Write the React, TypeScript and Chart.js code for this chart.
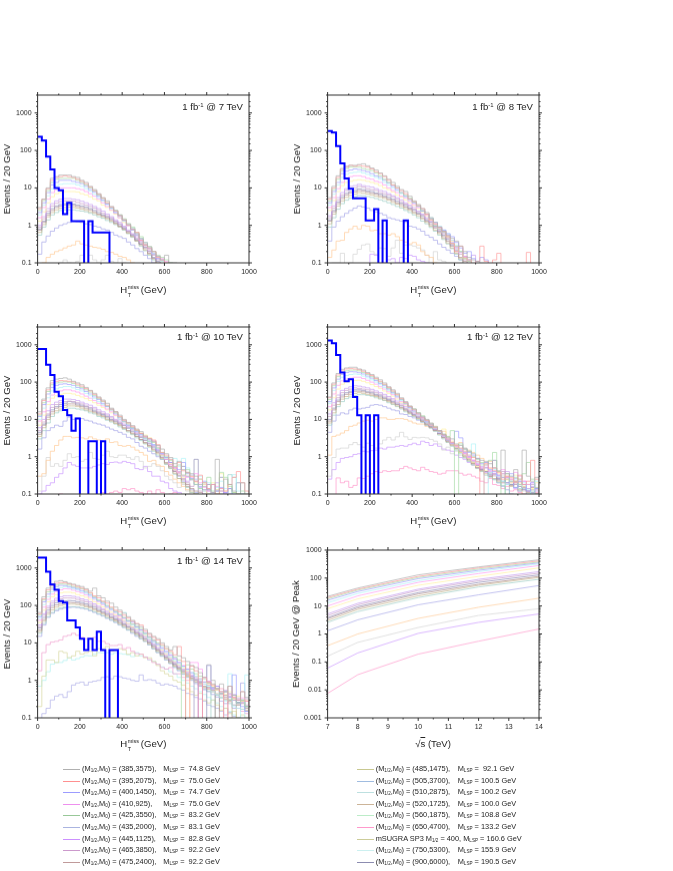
import React, { useEffect, useRef } from "react";
import { Chart, registerables } from "chart.js";
Chart.register(...registerables);

const FONT = '"Liberation Sans", Arial, sans-serif';
const curveColors = ["#b0b0b0","#ff9c9c","#a8dca8","#a0a0ff","#b0f4f8","#ff9cf0","#fff0a0","#c8a0f0","#c8a0c8","#9090b8","#b09090","#c8b890","#a0d0c8","#a8a8e8","#ffcc99","#d4d4d4","#cc99ff","#ff99cc"];
const curveColors14 = ["#b0b0b0","#ff9c9c","#a8dca8","#a0a0ff","#b0f4f8","#ff9cf0","#fff0a0","#c8a0f0","#c8a0c8","#9090b8","#b09090","#c8b890","#a0d0c8","#a8a8e8","#f0a0d0","#d8d8a0","#b0f0f0","#b0b0e8"];
const blue = "#0000ff";
const energies = [7, 8, 10, 12, 14];
const peaks = [
  [22,44,130,250,450],[20,40,115,230,410],[18,37,105,210,375],[16,33,95,190,350],[13,28,80,170,320],[10,23,70,145,280],[8,18,55,115,230],
  [5.2,12.5,40,90,170],[4.5,11,36,80,150],[3.8,9.5,30,70,130],[3.5,8.5,27,60,115],[3,7.5,23,55,105],[2.6,6.3,20,48,90],
  [1.3,3.2,11,25,54],[0.38,1,3.6,9,19],[0.16,0.5,1.7,4.6,8],[0.06,0.21,1.05,2.6,5.2],[0.0075,0.035,0.19,0.55,1.5],
];
const blue7 = [230,185,68,31,10,8.7,2,4,1.3,1.3,1.3,0,1.3,0.65,0.65,0.65,0.65];
const blue8 = [330,300,130,45,18,9.5,5.3,5.3,5.3,1.35,1.35,2.7,0,1.35,0,0,0,0,1.35];
const blue10 = [770,770,290,155,55,42,18,13,5,10.5,0,0,2.6,2.6,0,2.6];
const blue12 = [1300,1100,530,180,105,120,40,13,0,13,0,13];
const blue14 = [1900,1900,800,360,260,130,120,40,40,26,13,6.5,13,6.5,20,6.5,0,6.5,6.5];
const h7: number[][] = [
[3,5,10,18,20,22,22,22,20,19,16,14,11,9,7,5.5,4.5,3.2,2.5,1.9,1.4,1.1,.8,.6,.45,.35,.27,.2,.15,.12,.16,.1,.1],
[2.8,5,9.5,16,19,20,21,20,19,17,15,13,10.5,8.5,6.8,5.3,4,3.1,2.4,1.8,1.4,1,.8,.65,.4,.3,.25,.2,.14,.12,.1],
[2.5,4.6,8.5,14,17,18,18,18,18,16,14,12,10,8.3,6.5,5.2,4,3,2.5,1.9,1.5,1.1,.9,.65,.5,.32,.27,.2,.16,.14,.12,.1],
[2.2,4,7.5,12,14,16,16,16,15,14,13,11,9,7.7,6,4.7,3.7,2.9,2.2,1.8,1.4,1,.75,.55,.42,.3,.24,.17,.13,.12],
[1.9,3.5,6.2,9.5,11.5,12.5,13,13,13,12,11,9.5,8.2,6.8,5.5,4.5,3.6,2.8,2.2,1.7,1.3,1,.85,.6,.45,.35,.25,.18,.14,.11],
[1.6,3,5,7.5,9,10,10,10,10,9.5,9,8,7,6,5,4,3.2,2.6,2.1,1.6,1.3,1,.8,.6,.4,.32,.24,.18,.15,.13,.11],
[1.3,2.3,4,5.8,7,7.6,8,8,8,7.8,7,6.5,5.8,5,4.5,3.5,3,2.5,2,1.6,1.2,1,.75,.55,.42,.3,.23,.17,.14,.11],
[1,1.7,2.8,3.8,4.5,5,5.2,5.2,5,4.8,4.4,4,3.6,3.2,2.8,2.4,2,1.7,1.4,1.2,.95,.75,.6,.5,.38,.3,.22,.18,.13,.11],
[.9,1.5,2.4,3.3,3.9,4.3,4.5,4.5,4.4,4.1,3.8,3.5,3.2,2.9,2.5,2.1,1.8,1.6,1.3,1.1,.9,.7,.58,.45,.35,.27,.2,.16,.12],
[.8,1.3,2.1,2.8,3.3,3.6,3.8,3.8,3.7,3.5,3.3,3.1,2.8,2.5,2.2,1.9,1.7,1.5,1.25,1.05,.85,.7,.55,.42,.32,.26,.2,.14,.11],
[.75,1.2,1.9,2.5,3,3.3,3.5,3.5,3.4,3.2,3,2.8,2.6,2.3,2,1.8,1.6,1.4,1.15,.95,.8,.65,.52,.4,.32,.24,.18,.13,.1],
[.65,1.05,1.7,2.2,2.6,2.9,3,3.1,3,2.9,2.7,2.5,2.3,2.1,1.9,1.7,1.5,1.3,1.1,.92,.78,.62,.5,.38,.3,.22,.17,.13],
[.55,.9,1.4,1.9,2.2,2.5,2.6,2.6,2.6,2.5,2.4,2.3,2.1,1.9,1.7,1.55,1.35,1.2,1.05,.9,.75,.6,.48,.38,.28,.21,.16,.12],
[.17,.36,.52,.7,.85,1,1.1,1.2,1.3,1.25,1.2,1.1,1.05,.95,.9,.8,.75,.65,.55,.5,.45,.36,.3,.24,.2,.16,.13,.1],
[.06,.1,.14,.17,.2,.22,.25,.28,.3,.38,.32,.3,.28,.26,.25,.23,.2,.19,.17,.15,.14,.12,.1],
[0,0,0,0,0,.1,.12,.1,0,.11,.16,.1,.16,.12,.1,.12,.16,.11,.1,.13,.1],
];
const h8: number[][] = [
[5.5,11,21,33,38,40,40,42,44,39,34,30,25,21,17,14,11,9,8,6,4.5,3.6,2.8,2.2,1.6,1.2,.9,.7,.55,.45,.38,.28,.2,.14,.12,.11],
[5,10,19,31,36,40,38,40,38,36,32,27,24,20,16,12,10,8.5,7,5,4.3,3.4,2.8,2,1.4,1.1,.9,.7,.5,.33,.2,.28,.14,.12,0,.11,.28,.11,0,.12,.18,0,0,0,0,0,0,.19],
[4.5,9,17,28,33,36,36,36,33,31,29,25,21,17,14,12,10,7.5,6.3,5.3,4.2,3.3,2.5,2,1.5,1,.8,.65,.5,.33,.28,.2,.13,.11],
[4,8,14,24,28,30,32,31,29,27,24,21,19,16,13.5,11,9,7.5,6,5,4,3.2,2.4,2,1.5,1.2,.9,.75,.6,.5,.35,.25,.18,.2,.13,.11,.14,.12],
[3.5,6.8,12,19,23,25,26,27,25,23,21,19,17,14,12,10,8.5,7,5.8,4.7,4,3.3,2.4,2,1.6,1.2,.95,.75,.6,.4,.3,.2,.14,.12],
[3,5.5,9.5,14,18,20,21,21,20,18,17,15,14,12,10,8.5,7.5,6,5.4,4.4,3.6,3,2.5,1.9,1.5,1.1,.85,.65,.55,.4,.28,.19,.15,.11],
[2.5,4.6,8,11.5,14,15,16,16.5,16,15,14,13,11.5,10,9,7.8,6.5,5.7,4.8,4,3.4,2.8,2.3,1.8,1.4,1.1,.85,.7,.5,.38,.28,.2,.13,.11],
[1.8,3.3,5.5,7.5,9.5,11,11.5,12.5,11.5,11,10.5,9.5,8.5,8,7,6.2,5.5,4.8,4,3.5,3,2.4,2,1.6,1.3,1.05,.8,.65,.5,.35,.26,.19,.13,.12,.16],
[1.6,2.9,4.8,6.5,8.5,9.5,10,11,10.5,9.5,9,8.5,7.5,7,6.4,5.8,5,4.3,3.7,3.2,2.7,2.3,1.9,1.5,1.2,.9,.75,.6,.45,.32,.24,.17,.12],
[1.4,2.5,4.2,5.8,7.2,8,8.6,9.4,9,8.4,8,7.3,6.8,6.2,5.6,5,4.4,3.9,3.4,2.9,2.6,2.1,1.8,1.4,1.2,.95,.7,.55,.42,.3,.22,.2,.15,.12],
[1.3,2.3,3.8,5.2,6.5,7.4,7.8,8.5,8.2,7.7,7.2,6.8,6.2,5.7,5.1,4.6,4,3.6,3.1,2.7,2.3,2,1.6,1.3,1.05,.85,.65,.5,.38,.28,.2,.14,.11],
[1.1,2,3.3,4.5,5.6,6.3,6.8,7.5,7.2,6.9,6.5,6,5.6,5.2,4.7,4.1,3.7,3.2,2.8,2.5,2.1,1.8,1.5,1.2,.95,.75,.6,.45,.34,.25,.18,.13],
[.9,1.6,2.7,3.8,4.7,5.3,5.8,6.3,6.2,5.9,5.6,5.2,4.8,4.4,4,3.6,3.2,2.9,2.5,2.2,1.9,1.6,1.3,1.1,.88,.7,.55,.42,.32,.24,.17,.12],
[.38,.9,1.3,1.7,2.1,2.5,2.9,3.3,3.1,2.9,2.5,2.3,2.1,1.9,1.6,1.5,1.4,1.3,1.2,.95,.9,.8,.7,.55,.48,.4,.32,.26,.22,.18,.15,.12],
[.14,.22,.38,.4,.65,.8,.95,.8,1,.95,.72,.75,.6,.6,.55,.6,.5,.4,.36,.32,.35,.3,.2,.16,.14,.1],
[0,.1,.1,.18,0,.1,.17,.23,.3,.32,.2,.17,.25,.24,.15,.25,.4,.18,.3,.3,.28,.25,.22,.16,.1,.2,.12,.11],
[0,0,0,0,0,0,0,0,0,0,.17,.16,.1,.1,.12,.13,.1,.14,.13,.16,.15,.12,.11,.1],
];
const h10: number[][] = [
[16,35,70,110,120,125,130,120,105,95,85,72,60,50,40,33,27,20,16,13,10,8.3,6.8,5.5,4.7,3.6,3,2.6,2,1.6,1.2,.95,.65,.75,.45,.38,.35,.3,.18,.16,.13,.11,.85,.12,.25,.18,.12,.1,.2,.1],
[14,32,62,95,105,110,108,105,100,88,78,67,58,47,38,31,24,19,16,12,9.5,8,6.5,5.2,4.2,3.4,3.1,2.8,2.1,1.3,1.1,.85,.5,.7,.42,.38,.3,.22,.32,.2,.14,.18,.1,.14,.12,.18,.28,.4,.2,.12],
[13,28,56,85,95,100,102,100,92,80,72,62,54,44,36,30,23,18,15,11.5,9,7.6,6,5,4.2,3.2,2.6,2.4,1.7,1.3,1,.8,.55,.6,.32,.45,.25,.18,.14,.2,.28,.12,.1,.38,.28,.16,.11,.1,.12],
[12,25,48,72,82,88,90,86,82,72,66,56,48,40,34,27,22,18,14,11,9,7,5.8,4.8,4,3.2,2.8,2.1,1.5,1.2,.95,.7,.5,.45,.7,.35,.26,.18,.16,.22,.13,.18,.12,.15,.11,.14,.1],
[10,20,38,58,66,72,76,76,70,63,58,50,43,36,30,25,22,19,16,10,8.5,7,5.6,4.8,3.9,3,2.5,2.1,1.7,1.25,.9,.85,.9,.55,.9,.5,.32,.24,.3,.2,.2,.1,.15,.22,.14,.1,.33,.12,.1],
[9,16,30,45,52,58,62,62,58,54,48,42,37,32,27,23,19,16,13,10,8.5,7,6,5,4.2,3.5,3,2.6,1.8,1.2,.85,.6,.5,.38,.32,.28,.28,.35,.2,.15,.12,.1,.16,.12,.11,.1],
[7,13,25,37,43,47,50,50,48,44,40,36,32,28,24,21,18,15,12.5,10,8.6,7,6,5.2,4.3,3.8,3.2,2.5,1.8,1.1,.9,.65,.45,.38,.28,.35,.3,.2,.25,.18,.1,.2,.13,.35,.12,.18,.11,.1],
[6,10,17,25,29,32,35,35,34,32,29,26,24,21,18,16,14,12,10,9,7.5,6.5,5.5,4.5,3.6,3,2.5,2,1.6,1.2,.95,.7,.55,.4,.3,.22,.32,.25,.15,.18,.12,.11,.2,.14,.1],
[5,8.5,14,21,25,28,30,31,30,28,26,23,21,19,16,14.5,13,11,9.5,8.3,7,6,5.2,4.2,3.4,2.8,2.3,1.9,1.5,1.15,.85,.62,.42,.36,.26,.2,.16,.22,.12,.1,.14,.11],
[4.5,7.5,13,18,22,25,27,30,29,26,24,22,20,17,15,13.5,12,10,9,7.8,6.8,5.8,4.8,3.9,3.3,2.7,2.2,1.8,1.4,1.05,.85,.7,.45,.38,.55,.3,.24,.85,.25,.13,.18,.11,.12,.28,.1,.14,.11,.2,.1],
[4,7,11.5,16,20,22,24,26,26,24,22,20,18,16,14,12.5,11,9.5,8.5,7.2,6,5,4.3,3.5,2.9,2.4,2,1.6,1.3,.95,.7,.55,.4,.32,.24,.18,.14,.12,.11],
[3.5,6,10,14,17,19,21,23,23,22,20,18,16.5,15,13,12,10,9,7.8,6.8,5.7,4.9,4.1,3.5,2.9,2.3,1.9,1.5,1.2,.9,.65,.5,.36,.26,.2,.16,.12,.1],
[3,5,8,12,15,17,18,20,20,19,18,17,15,14,12,11,9.5,8.5,7.5,6.3,5.4,4.6,3.9,3.2,2.7,2.2,1.8,1.4,1.1,.85,.62,.48,.34,.26,.2,.15,.11,.1,.14,.12,.1,0,.13,.1,.11,.33,.28],
[1.6,3.2,5,6,7,6.5,9,11.5,10,11,10.5,9.5,9,8,7.5,7,6.2,5.5,5,4.5,4,3.3,3,2.4,1.9,1.7,1.4,1.2,1,.85,.65,.5,.4,.3,.22,.16,.13,.11],
[.3,.35,.8,1.4,2,2.8,3.5,3.5,3.2,3.3,3.2,3,3.4,3,2.8,2.5,3,2.4,2.5,2,1.9,2,1.8,1.5,1.3,1.1,.75,.8,.6,.55,.4,.32,.25,.2,.16,.13,.11],
[.12,.3,.95,.55,.65,.55,.8,1.2,.95,1,.75,.85,1.3,.9,.85,1.1,1.4,1,.95,1.1,1.1,.95,.85,1,.75,.5,.55,.65,.55,.42,.3,.24,.2,.15,.18,.12],
[.1,.12,.17,.2,.28,.35,.5,.7,.6,.55,.5,.5,.5,.55,.6,.65,.62,.7,.72,.68,.75,.7,.65,.48,.45,.55,.4,.3,.3,.22,.2,.14,.12,.11],
[0,0,0,0,0,.1,0,0,0,0,0,0,0,0,0,.11,.1,.11,.12,.11,.14,.13,.14,.12,.11,.1,.12,.1,.13,.11,0,.1,.11],
];
const h12: number[][] = [
[40,95,170,220,240,250,250,225,210,180,160,135,115,95,75,62,50,38,30,23,19,15,12,10,8,6.5,5,4,3.3,3,2.2,2,1.7,1.4,1.2,.9,.8,.75,.65,.5,.42,1.5,.35,.3,.45,.25,1.5,.3,.22,.28],
[38,88,155,200,225,230,225,215,195,170,150,125,105,88,72,58,46,36,28,22,18,14,11,9.5,7,6,4.9,3.8,3,2.4,2,1.7,1.4,1.1,.95,.75,0,.65,.5,.42,.38,.25,.3,.28,.2,.32,.18,.22,.8,.25],
[34,80,140,180,200,210,210,200,180,160,140,120,100,85,68,55,45,35,27,22,19,15,12.5,9.5,7.5,6,4.8,4,3.5,5,0,2.2,1.6,1.4,1,.85,.7,.6,.8,1.3,.4,0,.35,.22,.28,.18,.35,.7,.25,.15],
[30,70,120,160,180,190,188,178,165,145,128,110,92,80,65,52,42,34,28,21,17,14,11,9,7.5,6,5,3.8,2.8,2.3,4.8,3.2,1.6,1.3,1.1,.9,.65,.7,.45,.4,.32,.28,.2,.35,.15,.22,.18,.12,.2,.14],
[27,60,105,135,150,160,165,160,145,130,115,100,85,72,60,50,40,32,26,20,16,13,11,8.5,7,5.8,4.5,3.6,3.1,2.4,2,1.6,1.4,1.1,2.2,.75,.6,0,.38,.45,.3,.22,.18,.3,.25,.14,.2,.13,.1,.22],
[22,48,82,108,120,128,135,135,125,112,100,88,75,65,55,46,38,30,25,20,16,13,11,9,7.4,5.8,4.5,3.6,3,2.3,1.9,1.5,1.2,.95,.8,.62,.5,.6,.4,.5,.32,.45,.28,.25,.38,.3,.22,.18,.2,.15],
[18,38,65,88,100,108,110,112,105,96,86,76,68,58,50,42,35,28,24,19,16,13,11,9,7.8,6.5,5,5.5,2.8,2.2,1.8,1.3,1.1,.9,.7,.55,.6,.42,.48,.5,.35,.28,.24,.2,.32,.25,.16,.18,.14,.2],
[14,28,45,60,68,75,80,78,74,70,64,58,52,47,41,36,31,26,22,18,15,12.5,11,9,7.4,5.5,4.6,3.8,3.1,2.4,2,1.6,1.25,1,.8,.65,.55,.5,.42,.36,.3,.35,.4,.22,.26,.18,.22,.14,.16,.12],
[12,24,38,52,60,65,70,68,65,62,57,52,47,42,37,33,28,24,20,17,14,12,10,8.3,6.8,5.5,4.3,3.5,2.8,2.2,1.8,1.5,1.2,.95,.75,.6,.48,.52,.38,.32,.28,.4,.25,.2,.18,.22,.15,.12,.18,.13],
[10,20,33,45,52,57,62,62,60,55,52,47,43,38,34,30,26,23,19,16,13.5,11.5,9.5,8,6.5,5.3,4.2,3.4,2.7,2.2,1.7,1.4,1.1,.9,.7,.58,.45,.4,.34,.8,.26,.22,.28,.18,.2,.16,.13,.18,.11,.14],
[9,18,30,40,47,52,57,57,55,52,48,44,40,36,32,28,25,21,18,15.5,13,11,9,7.5,6.2,5,4.2,3.3,2.6,2.1,1.7,1.3,1.05,.85,.65,.52,.44,.4,.3,.34,.24,.28,.2,.17,.22,.14,.16,.12,.15,.1],
[8,15,25,35,41,46,50,52,50,47,44,41,37,33,30,26,23,20,17,14.5,12.5,10.5,8.8,7.2,6,5,4,3.2,2.5,2,1.6,1.3,1,.8,.65,.5,.42,.35,.3,.26,.22,.2,.25,.16,.18,.13,.15,.11,.13,.1],
[7,13,22,30,36,40,44,46,46,44,42,38,35,32,28,25,22,19,16,14,12,10,8.4,7,5.8,4.8,3.8,3,2.4,1.9,1.5,1.2,.95,.75,.6,.48,.4,.32,.28,.24,.2,.17,0,.18,.15,.12,.14,.1,.12,.1],
[4.5,9,13,15,14,18,20,19,20,21,24,25,24,22,20,18,17,14,13.5,12,11,9.5,8.5,7,6.2,5.2,4.2,3.7,2.8,2.4,1.9,1.6,1.3,1,.8,.62,.5,.4,.32,.25,.2,.16,.13,.1],
[1.1,3.5,3.8,4.3,5,6.5,7,8,9,9.5,9,10,11,11,10,10,10.5,10.5,10,9,8,7.5,7.5,6.5,6.2,5.5,4.2,4.8,3.4,2.6,2.1,2.4,1.6,1.5,1.3,1.1,.9,.7,.75,.5,.4,.35,.3,.25,.22,.2],
[.3,.95,1.6,1.7,1.7,2.1,2.4,2.1,1.8,2.3,2,1.7,2.2,2.8,3.3,2.8,3.4,4.5,3.4,2.9,3.3,3.2,3.3,3.2,2.9,2.6,2.2,1.5,1.8,1.2,1.4,1.1,.9,.75,.6,.7,.42,.5,.35,.3,.25,.32,.2,.22,.15,.16,.12,.14,.1],
[.25,.45,.7,.9,.95,1,1.15,1.2,1.4,1.35,1.45,1.5,1.7,1.6,1.8,1.8,1.9,2,1.9,2.1,2.3,2.1,2.6,2.4,2,2.2,1.9,1.6,1.5,1.4,1.1,.95,.85,.7,.6,.5,.45,.38,.3,.35,.24,.2,.18,.25,.14,.12,.13,.11,.1],
[0,0,.27,.2,.22,.15,.17,.27,.26,.3,.35,.4,.38,.42,.4,.42,.42,.48,.55,.5,.45,.42,.52,.45,.4,.38,.34,.36,.42,.42,.42,.36,.32,.34,.3,.27,.22,.2,.26,.18,.17,.14,.16,.12,.13,.11,.1,.12,.1,.11],
];
const h14: number[][] = [
[65,170,290,380,440,460,430,390,370,340,320,280,240,290,180,160,130,115,90,75,62,50,40,32,27,23,18,15,13,10,8,6.5,8,4.5,4,3.2,2.5,2.2,1.6,1.2,2.6,1,.6,.8,.5,.7,.4,.3,.5,.35],
[60,150,260,340,390,410,400,380,350,320,290,260,220,180,160,130,115,90,75,68,55,46,38,33,30,21,17,14,12,9,7,6,4.8,8,3.2,0,2.4,1.8,0,1.2,.9,.75,.6,.5,0,.7,.35,.3,.5,.28],
[55,140,230,300,350,375,370,350,320,300,280,240,210,170,140,125,100,85,70,58,48,40,32,28,24,18,14.5,12,10,8.5,7,5.5,4.2,3.5,0,2.6,2,1.5,1.3,1.1,.9,.8,.6,.45,.5,.3,.4,.25,.3,.2],
[50,125,200,270,320,345,340,320,300,275,250,225,190,160,135,115,95,80,68,55,46,38,36,27,22,18,14,11,9,7.5,6,4.8,3.8,3,2.4,2,1.6,0,1.1,.9,2.5,.6,.7,.45,.5,.35,1.4,.25,.2,.15],
[45,105,170,230,270,300,315,300,280,260,235,210,180,150,130,110,90,76,65,56,65,38,30,25,20,17,13,10.5,9,7,5.5,4.2,3.4,2.8,2.3,1.9,1.6,1.3,1,.8,.7,.5,.42,.35,.28,1.5,.2,.18,0,1.4],
[40,90,145,200,235,260,280,275,255,235,215,190,165,145,125,105,88,75,62,52,45,38,32,26,22,19,15,12,9.5,7,5.5,4.6,3.8,3,2.5,2,3,3,2,1.2,.95,.8,.7,.6,.5,.42,.36,.3,.34,.28],
[35,75,125,170,195,215,225,225,215,195,180,165,145,125,110,92,78,66,56,48,40,33,27,24,20,16,13,11,8.5,6.5,5,4,3.2,2.6,2.2,1.8,0,1.3,1.1,.9,.8,.7,.55,.6,.42,.5,.32,.38,.28,.3],
[30,60,95,130,155,170,180,180,175,165,150,140,125,110,95,82,70,60,52,44,38,32,27,22,18,15,12,9.5,7.5,6,4.8,3.8,3.1,2.5,2,1.7,1.4,1.2,0,.9,.95,.6,.7,.45,.55,.36,.42,.3,.26,.32],
[27,55,85,115,135,150,158,158,155,145,135,125,112,100,88,76,65,55,48,41,35,29,25,20,17,14,11,9,7,5.6,4.5,3.6,2.9,2.3,1.9,1.6,1.3,1.1,.95,.8,.75,.6,.55,.45,0,.38,.3,.34,.24,.22],
[25,48,75,100,118,128,133,135,132,126,120,110,100,90,78,68,60,50,44,38,32,27,23,19,16,13,10.5,8.5,6.7,5.3,4.2,3.4,2.7,2.2,1.8,1.5,1.25,1.05,.9,0,.85,.65,.6,.5,.4,.44,.3,.26,.3,.2],
[22,42,65,88,103,112,118,120,118,115,108,100,92,82,72,64,55,47,41,35,30,26,22,18,15,12.5,10,8,6.4,5,4,3.2,2.6,2.1,1.7,1.4,1.15,1,.85,.7,.65,.55,0,.42,.36,.3,.34,.24,.28,.18],
[20,38,58,76,90,100,105,108,108,105,100,92,85,75,67,59,51,45,39,33,28,24,20,17,14,11.5,9.5,7.5,6,4.8,3.8,3,2.4,2,1.6,1.3,1.1,.92,.8,.66,.58,.5,.44,.36,.32,.27,0,.22,.25,.16],
[18,33,50,65,78,85,90,92,92,90,87,82,75,68,60,54,47,41,36,31,26,22,19,16,13,11,9,7,5.6,4.5,3.6,2.9,2.3,1.9,1.5,1.25,1.05,.88,.72,.6,.52,0,.4,.34,.3,.24,.22,.26,.17,.2],
[15,30,48,62,72,80,85,88,90,88,84,80,72,65,58,52,45,40,35,30,26,22,18,15,13,11,8.8,7,5.5,4.4,3.5,2.8,2.2,1.8,1.45,1.2,1,.82,.7,.56,.5,.42,.36,.28,.24,.3,.18,.22,.85,.15],
[1.8,5.5,9,10.5,11,12,15,16,18,16,14,13,13,14,11,11,9.5,8.5,8.5,9,7,7.5,6,5.2,5,4.2,3.6,3,2.7,2.2,2,2.2,1.5,1.5,1.2,1,1.3,.9,.75,.6,.62,.5,.42,.35,.32,.28,.22,.18,.15,.13],
[.2,1.3,3.5,3.5,3,6,5.5,4,4.5,6,5,5.5,6,4.5,7,7,8,6,6.5,7,6.5,5,5.5,4.5,5,4,4,3.2,2.5,1.8,1.5,1.3,1,.9,.75,.6,.5,.4,.45,.3,.25,.3,.22,.16,.18,.13,.15,.1,.12,.1],
[.7,1,1.7,2.7,3,3,3.4,4,3.5,3.8,4.2,4.6,4.5,5,5.5,5.4,5.5,5,5.5,5.2,5,4.8,4.3,5.5,4.5,4.2,3.5,3.2,2.7,2.3,2,1.7,1.5,1.2,1,.85,.7,.6,.5,.42,.35,.3,.25,.2,.18,.15,.12,.1],
[0,.13,.18,.3,.38,.42,.35,.5,.75,.85,.9,.75,.9,.95,1,1.2,1.25,1.1,1.3,1.25,1.15,1.1,1,.95,1.4,1,1.05,1,.85,.75,.8,.75,.7,.6,.55,.45,.42,.35,.32,.28,.22,.2,.18,.15,.12,.14,.11,.1],
];
const legendLeft = [["385,3575"," 74.8"],["395,2075"," 75.0"],["400,1450"," 74.7"],["410,925"," 75.0"],["425,3550"," 83.2"],["435,2000"," 83.1"],["445,1125"," 82.8"],["465,3850"," 92.2"],["475,2400"," 92.2"]];
const legendRight = [["485,1475"," 92.1"],["505,3700","100.5"],["510,2875","100.2"],["520,1725","100.0"],["560,1875","108.8"],["650,4700","133.2"],["SP3","160.6"],["750,5300","155.9"],["900,6000","190.5"]];
const legendLeftColors = ["#b0b0b0","#ff9090","#9c9cff","#ee90ee","#98c898","#aab4e0","#cc90ff","#cc99cc","#c09a9a"];
const legendRightColors = ["#c8c890","#a0bce0","#bde0e0","#ccb498","#bcecc8","#ff99cc","#cccc99","#ccf0f0","#8c8cb0"];

const L = 37.6, T = 5, R = 20, PW = 211.4, PH = 167.5, B = 30;
const FLOOR = 0.01;

function stepData(vals: number[]) {
  const pts = vals.map((v, i) => ({ x: i * 20, y: v <= 0 ? FLOOR : v }));
  pts.push({ x: vals.length * 20, y: FLOOR });
  return pts;
}

const framePlugin = {
  id: "frame",
  afterDatasetsDraw(chart: any) {
    const { ctx, chartArea: a, scales } = chart;
    ctx.save();
    ctx.strokeStyle = "#303030";
    ctx.lineWidth = 1;
    ctx.beginPath();
    ctx.strokeRect(a.left, a.top, a.right - a.left, a.bottom - a.top);
    const x = scales.x, y = scales.y;
    const xt = x.ticks.map((t: any) => t.value);
    const xs: [number, number][] = [];
    for (let i = 0; i < xt.length; i++) {
      xs.push([xt[i], 3]);
      if (i + 1 < xt.length) xs.push([(xt[i] + xt[i + 1]) / 2, 1.5]);
    }
    for (const [v, len] of xs) {
      const px = x.getPixelForValue(v);
      ctx.moveTo(px, a.top); ctx.lineTo(px, a.top - len);
      ctx.moveTo(px, a.bottom); ctx.lineTo(px, a.bottom + len);
    }
    for (const t of y.ticks) {
      const py = y.getPixelForValue(t.value);
      if (t.value > y.max) continue;
      const lg = Math.log10(t.value);
      const len = Math.abs(lg - Math.round(lg)) < 1e-6 ? 3 : 1.5;
      ctx.moveTo(a.left, py); ctx.lineTo(a.left - len, py);
      ctx.moveTo(a.right, py); ctx.lineTo(a.right + len, py);
    }
    ctx.stroke();
    ctx.restore();
  },
};

function PanelChart({ left, top, yMin, yMax, xMin, xMax, xStep, yTitle, datasets, titleGap }: any) {
  const ref = useRef<HTMLCanvasElement>(null);
  useEffect(() => {
    const chart = new Chart(ref.current!, {
      type: "line",
      data: { datasets },
      plugins: [framePlugin],
      options: {
        animation: false, responsive: false, parsing: false as any, normalized: true,
        layout: { autoPadding: false, padding: { top: T, right: R, left: 0, bottom: 0 } },
        plugins: { legend: { display: false }, tooltip: { enabled: false } },
        elements: { point: { radius: 0 } },
        scales: {
          x: {
            type: "linear", min: xMin, max: xMax,
            grid: { display: false, drawTicks: false }, border: { display: false },
            ticks: { stepSize: xStep, color: "#222", font: { family: FONT, size: 7 }, padding: 5, maxRotation: 0, autoSkip: false, callback: (v: any) => String(v) },
            afterFit: (s: any) => { s.height = B; s.paddingLeft = 0; s.paddingRight = 0; },
          },
          y: {
            type: "logarithmic", min: yMin, max: yMax,
            grid: { display: false, drawTicks: false }, border: { display: false },
            title: { display: true, text: yTitle, color: "#222", font: { family: FONT, size: 9.6 }, padding: { top: titleGap, bottom: 0 } },
            ticks: {
              color: "#222", font: { family: FONT, size: 7 }, padding: 6, autoSkip: false, maxRotation: 0,
              callback: (v: any) => { const lg = Math.log10(v); return Math.abs(lg - Math.round(lg)) < 1e-6 ? String(Number(v)) : ""; },
            },
            afterFit: (s: any) => { s.width = L; s.paddingTop = 0; s.paddingBottom = 0; },
          },
        },
      },
    });
    return () => chart.destroy();
  }, []);
  return <canvas ref={ref} width={L + PW + R} height={T + PH + B} style={{ position: "absolute", left, top, width: L + PW + R, height: T + PH + B }} />;
}

const txt = (x: number, y: number, size: number, extra: any = {}) => ({ position: "absolute", left: x, top: y, fontFamily: FONT, fontSize: size, color: "#222", whiteSpace: "pre", lineHeight: "10px", ...extra });
const subS = { fontSize: "0.62em", verticalAlign: "-0.3em", lineHeight: 0 };
const supS = { fontSize: "0.62em", verticalAlign: "0.55em", lineHeight: 0 };

function HTitle({ cx, y }: any) {
  return <div style={txt(cx, y, 9.6, { transform: "translateX(-50%)" }) as any}>H<span style={{ display: "inline-block", position: "relative", width: 11, height: 8 }}><span style={{ position: "absolute", left: 0.5, top: -3, fontSize: 5.5 }}>miss</span><span style={{ position: "absolute", left: 0.5, top: 4.5, fontSize: 5.5 }}>T</span></span> (GeV)</div>;
}
function Lumi({ rx, y, e }: any) {
  return <div style={txt(rx, y, 9.6, { transform: "translateX(-100%)" }) as any}>1 fb<sup style={supS}>-1</sup> @ {e} TeV</div>;
}
function LegendRow({ x, y, color, m, lsp, gap }: any) {
  const isSp3 = m === "SP3";
  return <>
    <div style={{ position: "absolute", left: x, top: y, width: 17, height: 1, background: color }} />
    <div style={txt(x + 18.7, y - 5, 7.4) as any}>{isSp3 ? <>mSUGRA SP3 M<sub style={subS}>1/2</sub> = 400, M<sub style={subS}>LSP</sub> = {lsp} GeV</> : <>(M<sub style={subS}>1/2</sub>,M<sub style={subS}>0</sub>) = ({m}),</>}</div>
    {!isSp3 && <div style={txt(x + gap, y - 5, 7.4) as any}>M<sub style={subS}>LSP</sub> = {lsp} GeV</div>}
  </>;
}

function histSets(hist: number[][], blueVals: number[], colors: string[]) {
  const sets: any[] = [{ data: stepData(blueVals), borderColor: blue, borderWidth: 2, stepped: "before", order: 0 }];
  hist.forEach((vals, i) => sets.push({ data: stepData(vals), borderColor: colors[i], borderWidth: 0.7, stepped: "before", order: 1 + i }));
  return sets;
}
const peakSets = peaks.map((vals, i) => ({ data: vals.map((v, k) => ({ x: energies[k], y: v })), borderColor: curveColors[i], borderWidth: 0.7, order: i }));

const rows = [90, 321.7, 545];
const hPanels = [
  { left: 0, e: 7, r: 0, h: h7, b: blue7, c: curveColors },
  { left: 290, e: 8, r: 0, h: h8, b: blue8, c: curveColors },
  { left: 0, e: 10, r: 1, h: h10, b: blue10, c: curveColors },
  { left: 290, e: 12, r: 1, h: h12, b: blue12, c: curveColors },
  { left: 0, e: 14, r: 2, h: h14, b: blue14, c: curveColors14 },
];
const yRows = [285, 516, 739];
const lumiRows = [101.7, 331.7, 555.7];

export default function App() {
  return (
    <div style={{ position: "absolute", left: 0, top: 0, width: 673, height: 871, background: "#fff", overflow: "hidden", filter: "blur(0.3px)" }}>
      {hPanels.map((p, i) => (
        <React.Fragment key={i}>
          <PanelChart left={p.left} top={rows[p.r]} xMin={0} xMax={1000} xStep={200} yMin={0.1} yMax={3000} yTitle="Events / 20 GeV" titleGap={2} datasets={histSets(p.h, p.b, p.c)} />
          <HTitle cx={p.left + 143.3} y={yRows[p.r]} />
          <Lumi rx={p.left + 243} y={lumiRows[p.r]} e={p.e} />
        </React.Fragment>
      ))}
      <PanelChart left={290} top={rows[2]} xMin={7} xMax={14} xStep={1} yMin={0.001} yMax={1000} yTitle="Events / 20 GeV @ Peak" titleGap={1} datasets={peakSets} />
      <div style={txt(433, 739, 9.6, { transform: "translateX(-50%)" }) as any}>√<span style={{ textDecoration: "overline" }}>s</span> (TeV)</div>
      {legendLeft.map((r, i) => <LegendRow key={i} x={63.3} y={769 + i * 11.6} color={legendLeftColors[i]} m={r[0]} lsp={r[1]} gap={100} />)}
      {legendRight.map((r, i) => <LegendRow key={i} x={357} y={769 + i * 11.6} color={legendRightColors[i]} m={r[0]} lsp={r[1]} gap={100.7} />)}
    </div>
  );
}
